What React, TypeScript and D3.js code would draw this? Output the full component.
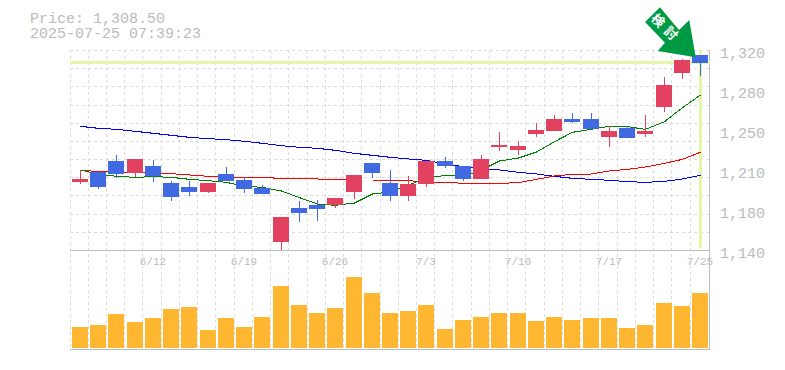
import React from "react";
import * as d3 from "d3";

const W = 785, H = 370;
const dates = ["6/5","6/6","6/9","6/10","6/12","6/13","6/16","6/17","6/18","6/19","6/20","6/23","6/24","6/25","6/26","6/27","6/30","7/1","7/2","7/3","7/4","7/7","7/8","7/9","7/10","7/11","7/14","7/15","7/16","7/17","7/18","7/22","7/23","7/24","7/25"];
const dateLabels = ["6/12","6/19","6/26","7/3","7/10","7/17","7/25"];
const priceTickValues = [1320,1284,1248,1212,1176,1140];
const priceTickLabels = ["1,320","1,280","1,250","1,210","1,180","1,140"];
const opens = [1201.5,1210.5,1220.1,1209.6,1215.6,1200.3,1196.7,1192.2,1208.4,1203,1195.8,1147.2,1177.8,1180.5,1180.5,1192.2,1218.3,1200.3,1188.6,1199.4,1220.1,1215.6,1203.9,1232.7,1230,1244.4,1247.1,1257.9,1257.9,1241.7,1249.8,1244.4,1268.7,1299.3,1315.5];
const closes = [1203.9,1196.7,1208.4,1221.9,1206.6,1187.7,1192.2,1200.3,1202.1,1194.9,1190.4,1169.7,1173.3,1176.9,1186.8,1207.5,1209.3,1188.6,1199.4,1220.1,1215.6,1203.9,1221.9,1234.5,1233.6,1248,1257.9,1255.2,1248.9,1247.1,1240.8,1247.1,1288.5,1311,1308.5];
const highs = [1212,1210.5,1225.5,1221.9,1221,1202.1,1202.1,1200.3,1214.7,1205.7,1198.5,1169.7,1184.1,1185,1186.8,1207.5,1218.3,1212,1206.6,1220.1,1223.7,1215.6,1225.5,1246.2,1238.1,1254.3,1261.5,1263.3,1263.3,1251.6,1251.6,1261.5,1295.7,1311.9,1315.5];
const lows = [1199.4,1195.2,1204.8,1206,1201.5,1184.1,1188.6,1191.3,1202.1,1191.3,1190.4,1140,1165.2,1166.1,1178.1,1185.9,1204.8,1184.1,1184.1,1196.7,1213.8,1202.1,1203.9,1229.1,1225.5,1241.7,1247.1,1254.3,1248.9,1232.7,1240.8,1241.7,1264.2,1293.9,1296.6];
const volumes = [21,23,34,26,30,39,41,18,30,21,31,62,43,35,40,71,55,35,37,43,19,28,31,35,35,27,31,28,30,30,20,23,45,42,55];
const greenMA = [1212,1208.1,1206.3,1205.4,1206,1205.4,1203.6,1202.4,1200.9,1197.3,1196.4,1193.1,1187.1,1181.4,1180.2,1182.3,1190.4,1192.2,1198.5,1204.8,1207.2,1206,1212,1220.1,1222.8,1228.2,1237.5,1245.9,1248.6,1251.3,1251,1248.6,1255.5,1268.1,1279.5];
const redMA = [1212,1210.5,1210.2,1209.9,1209.6,1208.7,1207.5,1206.3,1205.9,1205.4,1205.2,1204.5,1204.5,1203.9,1203.3,1203,1203,1202.4,1202.4,1201.2,1200.9,1200,1200,1200,1200.6,1203.6,1206.6,1208.1,1208.4,1211.1,1212.6,1214.7,1218,1221.6,1228];
const blueMA = [1251.3,1249.5,1248.6,1246.8,1245,1243.2,1241.4,1240.2,1239.3,1237.8,1236,1233.9,1232.4,1231.5,1229.7,1227,1225.2,1223.4,1221.9,1220.7,1217.4,1215,1213.5,1212,1209.9,1208.4,1206.3,1204.5,1203.6,1202.7,1201.5,1200.9,1201.8,1203.9,1207.2];
const closeLevel = 1308.5;

const UP = "#e2425f", DOWN = "#4169e1", GRID = "#dcdcdc", TXT = "#bbbbbb", AXIS = "#bdbdbd";
const L = 70, R = 710, T = 50, B = 250, VB = 350;
const idx = d3.range(35);
const xp = d3.scalePoint<number>().domain(idx).range([72, 692]);
const left = (i: number) => Math.round(xp(i) as number);
const cx = (i: number) => left(i) + 8;
const gridX = (i: number) => Math.floor((xp(i) as number) - 2) + 0.5;
const y = d3.scaleLinear().domain([1140, 1320]).range([B, T]);
const yv = d3.scaleLinear().domain([0, 98]).range([348, 250]);
const gridYs = d3.range(11).map(i => Math.round(T + (i * (B - T)) / 11) + 0.5);
const mono = "'Liberation Mono','DejaVu Sans Mono',monospace";

const Line = ({ vals, color }: { vals: number[]; color: string }) => {
  const d = d3.line<number>().x((_, i) => cx(i) + 0.5).y(v => y(v)).curve(d3.curveLinear)(vals) as string;
  return <path d={d} fill="none" stroke={color} strokeWidth={1} shapeRendering="crispEdges" />;
};

export default function App() {
  return (
    <svg width={W} height={H} style={{ position: "absolute", left: 0, top: 0, display: "block" }}>
      <rect width={W} height={H} fill="#fff" />
      <text x={30} y={22.5} fontFamily={mono} fontSize={15} fill={TXT}>Price: 1,308.50</text>
      <text x={30} y={38} fontFamily={mono} fontSize={15} fill={TXT}>2025-07-25 07:39:23</text>
      <g shapeRendering="crispEdges">
        {gridYs.map(g => <line key={g} x1={L} x2={R} y1={g} y2={g} stroke={GRID} strokeDasharray="3 3" />)}
        {idx.map(i => <line key={i} x1={gridX(i)} x2={gridX(i)} y1={T} y2={VB} stroke={GRID} strokeDasharray="3 3" />)}
        <line x1={L} x2={R} y1={250.5} y2={250.5} stroke={AXIS} strokeWidth={1} />
        <line x1={L} x2={R} y1={349.5} y2={349.5} stroke={AXIS} strokeWidth={1} />
        <line x1={709.5} x2={709.5} y1={T} y2={VB} stroke={AXIS} strokeWidth={1} />
        <line x1={L} x2={R} y1={y(closeLevel)} y2={y(closeLevel)} stroke="#e4f6a8" strokeWidth={3} />
        <line x1={700.5} x2={700.5} y1={T} y2={B - 2} stroke="#e4f6a8" strokeWidth={3} />
      </g>
      <Line vals={blueMA} color="#0000ff" />
      <Line vals={redMA} color="#ff0000" />
      <Line vals={greenMA} color="#008000" />
      <g shapeRendering="crispEdges">
        {idx.map(i => {
          const c = closes[i] >= opens[i] ? UP : DOWN;
          const t = y(Math.max(opens[i], closes[i])), b = y(Math.min(opens[i], closes[i]));
          return (
            <g key={i}>
              <line x1={cx(i) + 0.5} x2={cx(i) + 0.5} y1={y(highs[i])} y2={y(lows[i])} stroke={c} />
              <rect x={left(i)} y={t} width={16} height={Math.max(1, b - t)} fill={c} />
            </g>
          );
        })}
        {idx.map(i => <rect key={i} x={left(i)} y={yv(volumes[i])} width={16} height={348 - yv(volumes[i])} fill="#ffb732" />)}
      </g>
      {dates.map((d, i) => dateLabels.includes(d) ? <text key={d} x={cx(i)} y={265} textAnchor="middle" fontFamily={mono} fontSize={11} fill={TXT}>{d}</text> : null)}
      {priceTickValues.map((v, k) => <text key={v} x={720} y={y(v) + 8} fontFamily={mono} fontSize={15} fill={TXT}>{priceTickLabels[k]}</text>)}
      <polygon points="660,7.3 645,22 665,42.7 657.7,51 695.7,57.3 689.3,20 679,30" fill="#009944" />
      <g transform="translate(666.5,28.5) rotate(45)">
        <text x={0} y={5} textAnchor="middle" fontFamily="'Noto Sans CJK JP'" fontWeight={700} fontSize={13} letterSpacing={5} fill="#fff">検討</text>
      </g>
    </svg>
  );
}
